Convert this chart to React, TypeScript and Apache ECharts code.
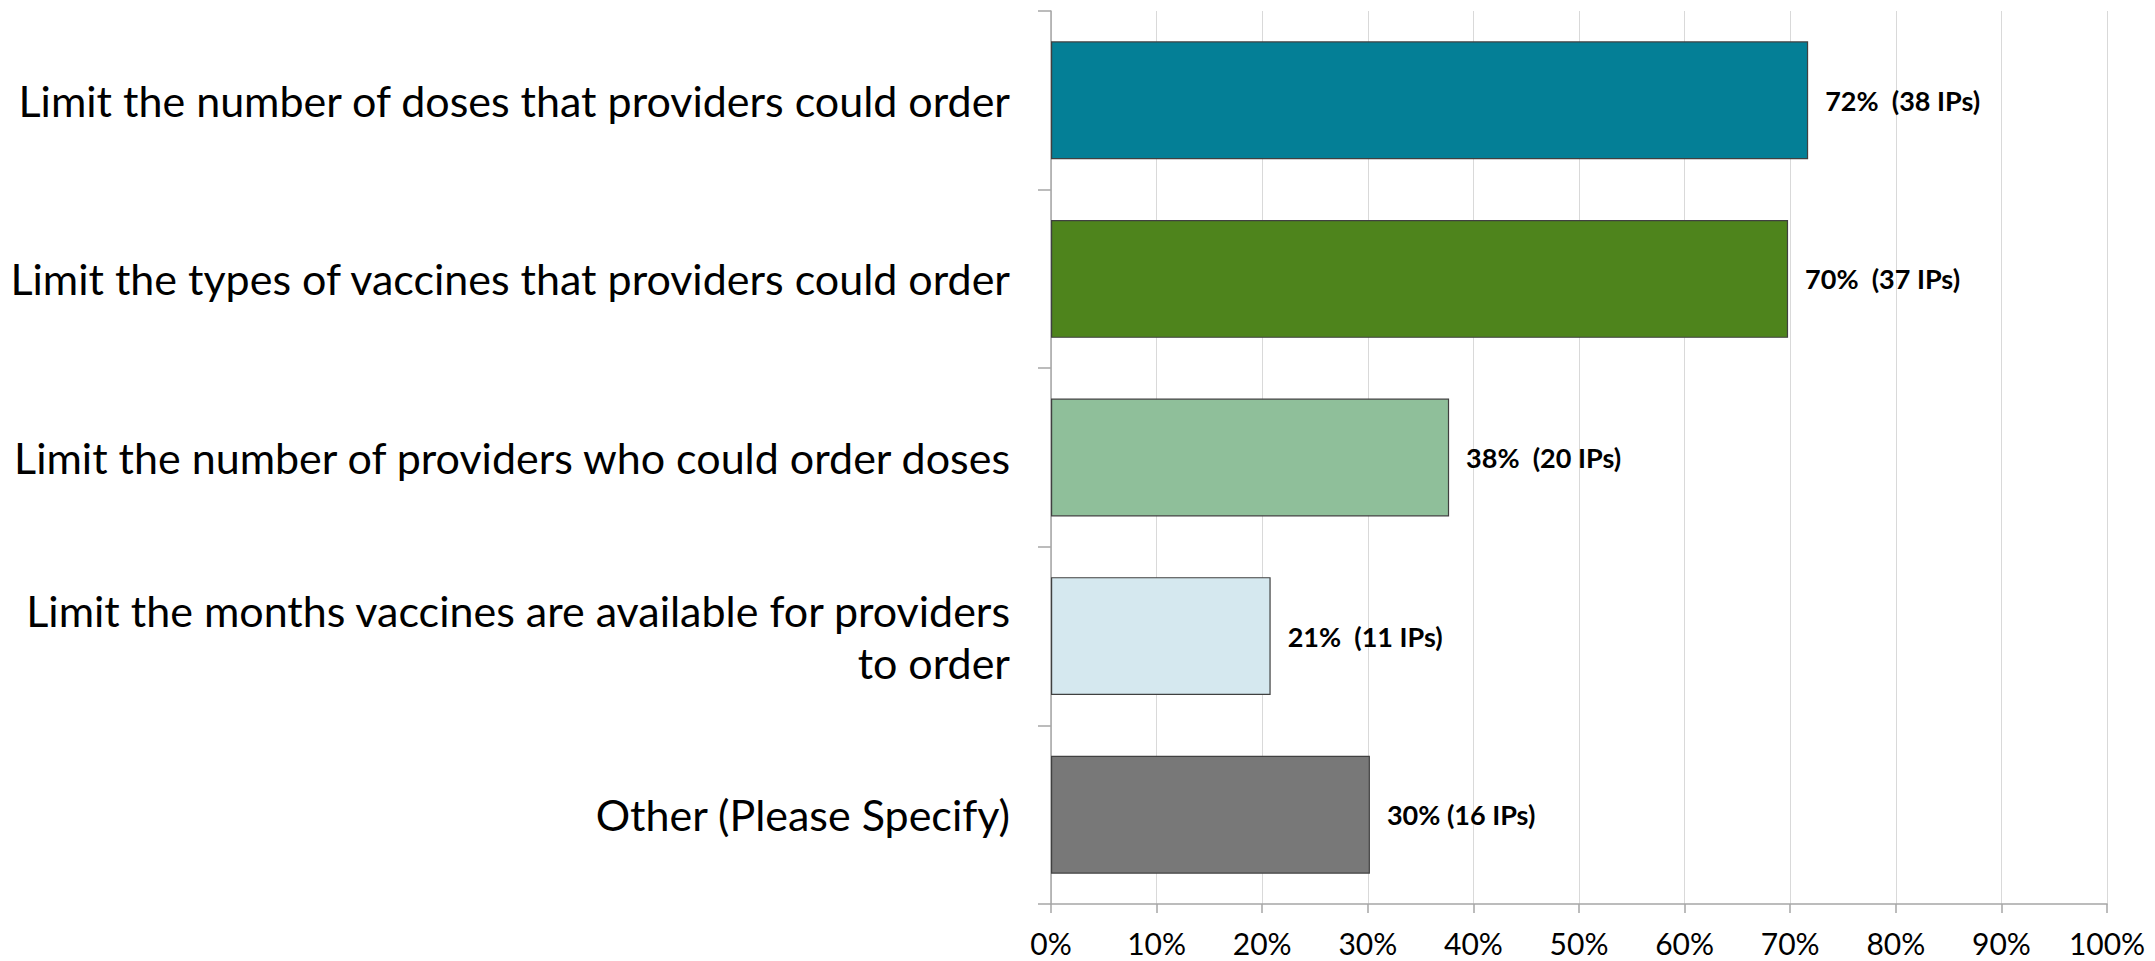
import React, { useEffect, useRef } from "react";
import * as echarts from "echarts";

const categories = [
  "Limit the number of doses that providers could order",
  "Limit the types of vaccines that providers could order",
  "Limit the number of providers who could order doses",
  "Limit the months vaccines are available for providers\nto order",
  "Other (Please Specify)",
];
const values = [71.7, 69.8, 37.7, 20.8, 30.2];
const valueLabels = [
  "72%  (38 IPs)",
  "70%  (37 IPs)",
  "38%  (20 IPs)",
  "21%  (11 IPs)",
  "30% (16 IPs)",
];
const barColors = ["#047f96", "#4e841c", "#8fbf9a", "#d5e8ef", "#787878"];
const xTicks = [0, 10, 20, 30, 40, 50, 60, 70, 80, 90, 100];

export default function App() {
  const ref = useRef<HTMLDivElement>(null);
  useEffect(() => {
    if (!ref.current) return;
    const chart = echarts.init(ref.current, undefined, { renderer: "svg" });
    chart.setOption({
      animation: false,
      backgroundColor: "#ffffff",
      textStyle: { fontFamily: "Lato" },
      grid: { left: 1051, right: 48, top: 11, bottom: 57, containLabel: false },
      xAxis: {
        type: "value",
        min: xTicks[0],
        max: xTicks[xTicks.length - 1],
        interval: 10,
        axisLine: { show: true, lineStyle: { color: "#a6a6a6", width: 1.5 } },
        axisTick: { show: true, length: 9, lineStyle: { color: "#a6a6a6", width: 1.5 } },
        splitLine: { show: true, lineStyle: { color: "#d9d9d9", width: 1 } },
        axisLabel: {
          formatter: "{value}%",
          color: "#000000",
          fontSize: 30,
          lineHeight: 30,
          fontFamily: "Lato",
          margin: 24,
        },
      },
      yAxis: {
        type: "category",
        data: categories,
        inverse: true,
        axisLine: { show: true, lineStyle: { color: "#a6a6a6", width: 1.5 } },
        axisTick: { show: true, length: 13, lineStyle: { color: "#a6a6a6", width: 1.5 } },
        axisLabel: {
          color: "#000000",
          fontSize: 43,
          fontFamily: "Lato",
          margin: 41,
          align: "right",
          lineHeight: 52,
        },
      },
      series: [
        {
          type: "bar",
          barCategoryGap: "34%",
          data: values.map((v, i) => ({
            value: v,
            itemStyle: {
              color: barColors[i],
              borderColor: "#404040",
              borderWidth: 1.2,
            },
          })),
          label: {
            show: true,
            position: "right",
            distance: 17,
            formatter: (p: any) => valueLabels[p.dataIndex],
            color: "#000000",
            fontWeight: "bold",
            fontSize: 27,
            fontFamily: "Lato",
          },
        },
      ],
    });
    return () => chart.dispose();
  }, []);
  return (
    <div
      ref={ref}
      style={{ position: "fixed", left: 0, top: 0, width: 2155, height: 961 }}
    />
  );
}
